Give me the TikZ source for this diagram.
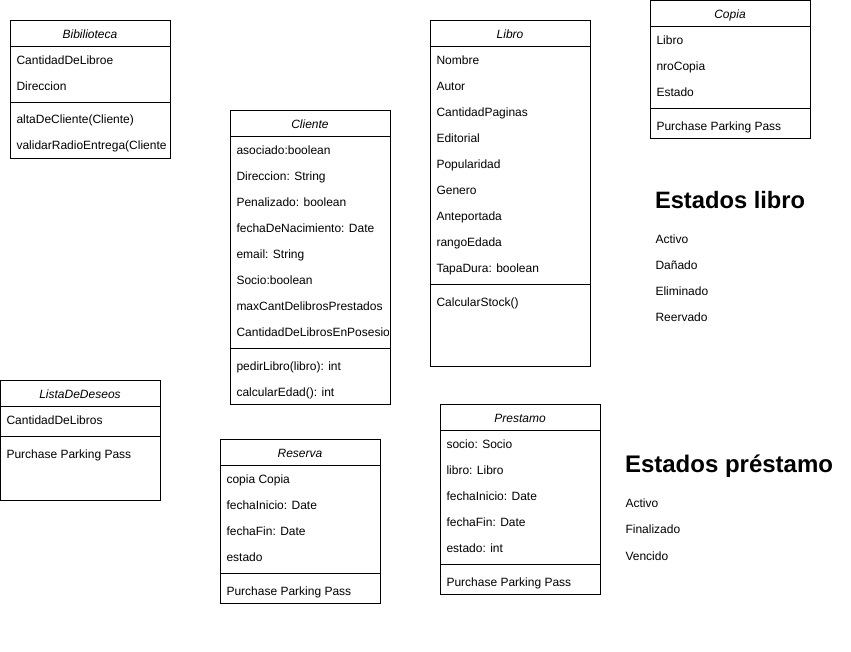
\documentclass[tikz,border=0pt]{standalone}
\usepackage{fontspec}
\setmainfont{Liberation Sans}

\begin{document}
\begin{tikzpicture}[x=1pt, y=-1pt, line width=1pt,
  every node/.style = {inner sep=0pt, font=\fontsize{12}{14}\selectfont},
  classbox/.style = {draw, line width=1pt, anchor=north west,
    minimum width=160pt},
  classname/.style = {anchor=base, yshift=-5pt,
    font=\fontsize{12}{14}\selectfont\itshape},
  field/.style = {anchor=base west, yshift=-5pt},
  heading/.style = {anchor=base west,
    font=\fontsize{24}{28}\selectfont\bfseries}]
  \useasboundingbox[fill=white] (0,0) rectangle (851,651);

  % Bibilioteca
  \node[classbox, minimum height=138pt] (biblio) at (10,20) {};
  \node[classname] (biblio-name) at (90,33) {Bibilioteca};
  \draw (10,46) -- (170,46);
  \draw (10,102) -- (170,102);
  \begin{scope}
    \clip (10,20) rectangle (170,158);
    \foreach \txt [count=\i] in {CantidadDeLibroe, Direccion}
      \node[field] (biblio-a\i) at (16,33+26*\i) {\txt};
    \foreach \txt [count=\i] in {altaDeCliente(Cliente), validarRadioEntrega(Cliente}
      \node[field] (biblio-m\i) at (16,92+26*\i) {\txt};
  \end{scope}

  % Cliente
  \node[classbox, minimum height=294pt] (cliente) at (230,110) {};
  \node[classname] (cliente-name) at (310,123) {Cliente};
  \draw (230,136) -- (390,136);
  \draw (230,348) -- (390,348);
  \begin{scope}
    \clip (230,110) rectangle (388,404);
    \foreach \txt [count=\i] in {asociado:boolean, Direccion: String,
        Penalizado: boolean, fechaDeNacimiento: Date, email: String,
        Socio:boolean, maxCantDelibrosPrestados, CantidadDeLibrosEnPosesio}
      \node[field] (cliente-a\i) at (236,123+26*\i) {\txt};
    \foreach \txt [count=\i] in {pedirLibro(libro): int, calcularEdad(): int}
      \node[field] (cliente-m\i) at (236,339+26*\i) {\txt};
  \end{scope}
  \draw (390,110) -- (390,404);

  % Libro
  \node[classbox, minimum height=346pt] (libro) at (430,20) {};
  \node[classname] (libro-name) at (510,33) {Libro};
  \draw (430,46) -- (590,46);
  \draw (430,284) -- (590,284);
  \foreach \txt [count=\i] in {Nombre, Autor, CantidadPaginas, Editorial,
      Popularidad, Genero, Anteportada, rangoEdada, TapaDura: boolean}
    \node[field] (libro-a\i) at (436,33+26*\i) {\txt};
  \node[field] (libro-m1) at (436,301) {CalcularStock()};

  % Copia
  \node[classbox, minimum height=138pt] (copia) at (650,0) {};
  \node[classname] (copia-name) at (730,13) {Copia};
  \draw (650,26) -- (810,26);
  \draw (650,108) -- (810,108);
  \foreach \txt [count=\i] in {Libro, nroCopia, Estado}
    \node[field] (copia-a\i) at (656,13+26*\i) {\txt};
  \node[field] (copia-m1) at (656,125) {Purchase Parking Pass};

  % ListaDeDeseos
  \node[classbox, minimum height=120pt] (lista) at (0,380) {};
  \node[classname] (lista-name) at (80,393) {ListaDeDeseos};
  \draw (0,406) -- (160,406);
  \draw (0,436) -- (160,436);
  \node[field] (lista-a1) at (6,419) {CantidadDeLibros};
  \node[field] (lista-m1) at (6,453) {Purchase Parking Pass};

  % Reserva
  \node[classbox, minimum height=164pt] (reserva) at (220,439) {};
  \node[classname] (reserva-name) at (300,452) {Reserva};
  \draw (220,465) -- (380,465);
  \draw (220,573) -- (380,573);
  \foreach \txt [count=\i] in {copia Copia, fechaInicio: Date,
      fechaFin: Date, estado}
    \node[field] (reserva-a\i) at (226,452+26*\i) {\txt};
  \node[field] (reserva-m1) at (226,590) {Purchase Parking Pass};

  % Prestamo
  \node[classbox, minimum height=190pt] (prestamo) at (440,404) {};
  \node[classname] (prestamo-name) at (520,417) {Prestamo};
  \draw (440,430) -- (600,430);
  \draw (440,564) -- (600,564);
  \foreach \txt [count=\i] in {socio: Socio, libro: Libro,
      fechaInicio: Date, fechaFin: Date, estado: int}
    \node[field] (prestamo-a\i) at (446,417+26*\i) {\txt};
  \node[field] (prestamo-m1) at (446,581) {Purchase Parking Pass};

  % estados
  \node[heading, font=\fontsize{23.7}{28}\selectfont\bfseries]
    (estlibro) at (654.5,208.3) {Estados libro};
  \foreach \txt/\y [count=\i] in {Activo/238, Dañado/264, Eliminado/290,
      Reervado/316}
    \node[field] (estlibro-\i) at (655,\y) {\txt};
  \node[heading] (estprest) at (624.5,472.7) {Estados préstamo};
  \foreach \txt/\y [count=\i] in {Activo/502.5, Finalizado/528.5, Vencido/555}
    \node[field] (estprest-\i) at (625,\y) {\txt};
\end{tikzpicture}
\end{document}
